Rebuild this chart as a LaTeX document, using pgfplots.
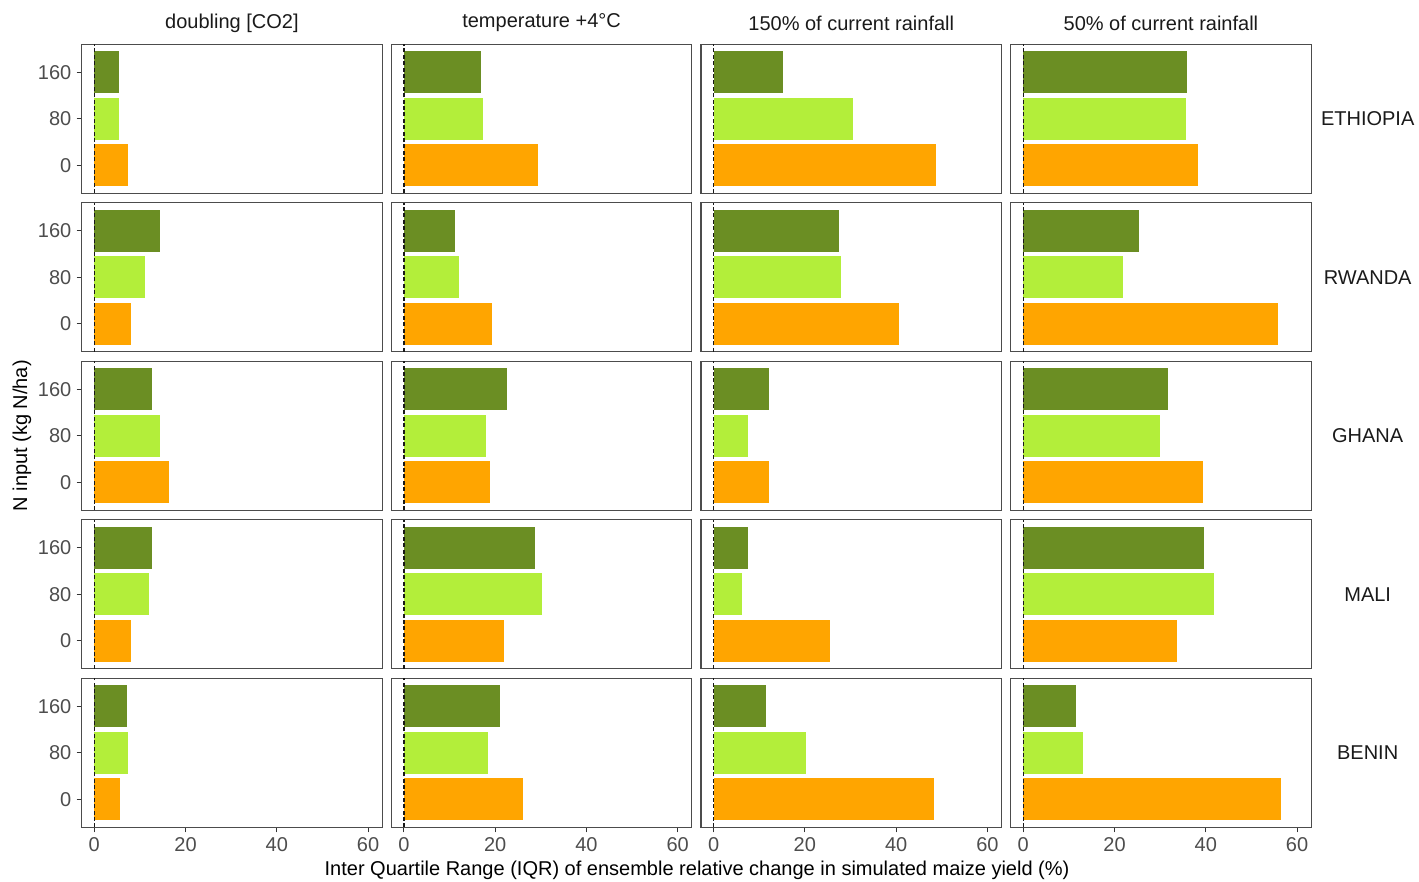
\documentclass[border=0pt]{standalone}
\usepackage{pgfplots}
\pgfplotsset{compat=1.18}
\usepgfplotslibrary{groupplots}
\usepackage{fontspec}
\setmainfont{Liberation Sans}
\definecolor{cD}{HTML}{6B8E23}
\definecolor{cL}{HTML}{B3EE3A}
\definecolor{cO}{HTML}{FFA500}
\definecolor{tickc}{HTML}{4D4D4D}
\definecolor{stripc}{HTML}{1A1A1A}
\newcommand{\fs}{\fontsize{10}{12}\selectfont}
% #1 = 0 kg N/ha, #2 = 80 kg N/ha, #3 = 160 kg N/ha
\newcommand{\bars}[3]{%
  \addplot[xbar, fill=cO, draw=none, bar width=0.9, bar shift=0pt] coordinates {(#1,1)};
  \addplot[xbar, fill=cL, draw=none, bar width=0.9, bar shift=0pt] coordinates {(#2,2)};
  \addplot[xbar, fill=cD, draw=none, bar width=0.9, bar shift=0pt] coordinates {(#3,3)};
  \addplot[black!90, dash pattern=on 2pt off 1.2pt, line width=0.75pt] coordinates {(0,0.4) (0,3.6)};
}
\begin{document}
\begin{tikzpicture}
\begin{groupplot}[
  group style={group size=4 by 5, horizontal sep=4.58pt, vertical sep=4.75pt},
  width=150.25pt, height=74.5pt, scale only axis,
  xmin=-2.76, xmax=63.1, ymin=0.4, ymax=3.6,
  axis line style={black!70, line width=0.55pt},
  tick align=outside, major tick length=2.5pt,
  tick style={color=black!80, line width=0.5pt},
  xtick={0,20,40,60}, ytick={1,2,3}, yticklabels={0,80,160},
  xtick pos=bottom, ytick pos=left,
  ticklabel style={font=\fs, text=tickc},
  yticklabel style={inner sep=0pt, xshift=-2.5pt},
  xticklabel style={inner sep=0pt, yshift=-2.5pt},
  /pgf/number format/assume math mode=true,
  clip mode=individual,
]
% ETHIOPIA
\nextgroupplot[xmajorticks=false]
\bars{7.45}{5.4}{5.5}
\nextgroupplot[xmajorticks=false, ymajorticks=false]
\bars{29.4}{17.4}{16.8}
\nextgroupplot[xmajorticks=false, ymajorticks=false]
\bars{48.7}{30.5}{15.2}
\nextgroupplot[xmajorticks=false, ymajorticks=false]
\bars{38.2}{35.6}{35.9}
% RWANDA
\nextgroupplot[xmajorticks=false]
\bars{7.97}{11.2}{14.3}
\nextgroupplot[xmajorticks=false, ymajorticks=false]
\bars{19.4}{12.0}{11.1}
\nextgroupplot[xmajorticks=false, ymajorticks=false]
\bars{40.7}{27.9}{27.4}
\nextgroupplot[xmajorticks=false, ymajorticks=false]
\bars{55.9}{21.9}{25.3}
% GHANA
\nextgroupplot[xmajorticks=false]
\bars{16.3}{14.5}{12.6}
\nextgroupplot[xmajorticks=false, ymajorticks=false]
\bars{18.8}{18.0}{22.5}
\nextgroupplot[xmajorticks=false, ymajorticks=false]
\bars{12.2}{7.6}{12.2}
\nextgroupplot[xmajorticks=false, ymajorticks=false]
\bars{39.3}{29.9}{31.7}
% MALI
\nextgroupplot[xmajorticks=false]
\bars{7.97}{12.0}{12.6}
\nextgroupplot[xmajorticks=false, ymajorticks=false]
\bars{22.0}{30.3}{28.8}
\nextgroupplot[xmajorticks=false, ymajorticks=false]
\bars{25.6}{6.2}{7.6}
\nextgroupplot[xmajorticks=false, ymajorticks=false]
\bars{33.6}{41.9}{39.6}
% BENIN
\nextgroupplot[]
\bars{5.7}{7.45}{7.16}
\nextgroupplot[ymajorticks=false]
\bars{26.2}{18.5}{21.1}
\nextgroupplot[ymajorticks=false]
\bars{48.4}{20.2}{11.4}
\nextgroupplot[ymajorticks=false]
\bars{56.5}{13.1}{11.6}
\end{groupplot}
% column titles
\path[font=\fs, text=stripc]
  (group c1r1.north) ++(0,10.65pt) node {doubling [CO2]}
  (group c2r1.north) ++(0,10.65pt) node {temperature +4°C}
  (group c3r1.north) ++(0,10.65pt) node {150\% of current rainfall}
  (group c4r1.north) ++(0,10.65pt) node {50\% of current rainfall};
% row labels
\path[font=\fs, text=stripc]
  (group c4r1.east) ++(28.25pt,0) node {ETHIOPIA}
  (group c4r2.east) ++(28.25pt,0) node {RWANDA}
  (group c4r3.east) ++(28.25pt,0) node {GHANA}
  (group c4r4.east) ++(28.25pt,0) node {MALI}
  (group c4r5.east) ++(28.25pt,0) node {BENIN};
% axis titles
\path[font=\fs, text=black]
  (group c1r3.west) ++(-29.85pt,0) node[rotate=90] {N input (kg N/ha)}
  (group c2r5.south east) ++(2.6pt,-21.6pt) node {Inter Quartile Range (IQR) of ensemble relative change in simulated maize yield (\%)};
\pgfresetboundingbox
\path[use as bounding box] (group c1r1.north west) ++(-40.85pt,22.15pt) rectangle ++(709.5pt,-441pt);
\end{tikzpicture}
\end{document}
